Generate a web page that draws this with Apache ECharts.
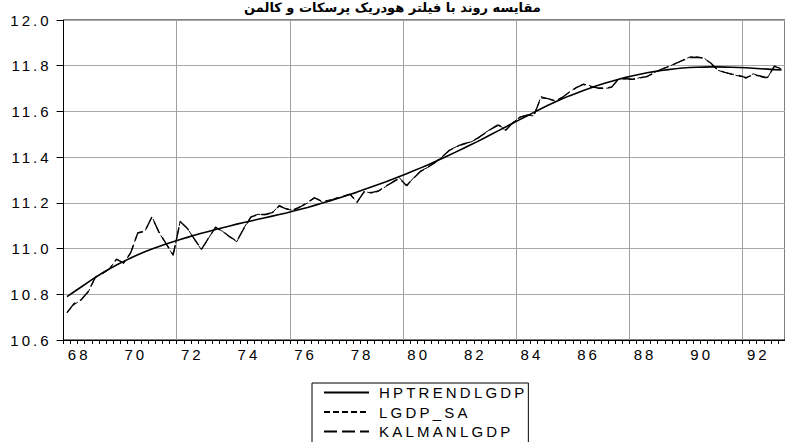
<!DOCTYPE html>
<html>
<head>
<meta charset="utf-8">
<script src="https://cdn.jsdelivr.net/npm/echarts@6/dist/echarts.min.js"></script>
<style>
html,body{margin:0;padding:0;background:#fff;}
#main{width:785px;height:442px;}
</style>
</head>
<body>
<div id="main"></div>
<script>
// ---------- data ----------
const TITLE = 'مقایسه روند با فیلتر هودریک پرسکات و کالمن';
const START_YEAR = 1968;
const N_QUARTERS = 102; // 1968Q1 .. 1993Q2
const categories = [];
for (let i = 0; i < N_QUARTERS; i++) {
  categories.push((START_YEAR + Math.floor(i / 4)) + 'Q' + (i % 4 + 1));
}
const seriesNames = ['HPTRENDLGDP', 'LGDP_SA', 'KALMANLGDP'];

const hpTrend = [
  10.790, 10.811, 10.832, 10.853, 10.874, 10.893, 10.911, 10.928,
  10.944, 10.959, 10.973, 10.986, 10.998, 11.009, 11.020, 11.030,
  11.040, 11.049, 11.058, 11.067, 11.075, 11.083, 11.091, 11.099,
  11.107, 11.114, 11.121, 11.128, 11.135, 11.142, 11.149, 11.156,
  11.164, 11.172, 11.180, 11.189, 11.198, 11.207, 11.217, 11.227,
  11.237, 11.247, 11.258, 11.269, 11.280, 11.291, 11.303, 11.315,
  11.327, 11.340, 11.353, 11.366, 11.380, 11.394, 11.408, 11.423,
  11.438, 11.453, 11.468, 11.484, 11.500, 11.516, 11.532, 11.548,
  11.564, 11.580, 11.596, 11.612, 11.627, 11.641, 11.655, 11.668,
  11.680, 11.692, 11.703, 11.713, 11.723, 11.732, 11.741, 11.749,
  11.756, 11.763, 11.769, 11.774, 11.779, 11.783, 11.787, 11.790,
  11.792, 11.793, 11.794, 11.795, 11.795, 11.794, 11.793, 11.792,
  11.791, 11.789, 11.787, 11.785, 11.783, 11.781
];

const lgdpSA = [
  10.720, 10.755, 10.775, 10.810, 10.875, 10.890, 10.910, 10.955,
  10.935, 10.980, 11.070, 11.075, 11.140, 11.070, 11.020, 10.970,
  11.120, 11.090, 11.040, 10.995, 11.045, 11.095, 11.075, 11.050,
  11.030, 11.090, 11.140, 11.150, 11.148, 11.155, 11.190, 11.172,
  11.168, 11.182, 11.200, 11.225, 11.205, 11.212, 11.218, 11.226,
  11.240, 11.200, 11.250, 11.243, 11.250, 11.270, 11.292, 11.310,
  11.273, 11.310, 11.340, 11.355, 11.375, 11.400, 11.430, 11.445,
  11.455, 11.465, 11.480, 11.505, 11.525, 11.545, 11.515, 11.550,
  11.575, 11.585, 11.580, 11.665, 11.655, 11.645, 11.660, 11.685,
  11.705, 11.720, 11.712, 11.700, 11.700, 11.705, 11.745, 11.742,
  11.740, 11.748, 11.752, 11.770, 11.785, 11.795, 11.810, 11.822,
  11.838, 11.838, 11.835, 11.810, 11.780, 11.770, 11.762, 11.755,
  11.745, 11.765, 11.752, 11.745, 11.800, 11.785
];

const kalmanLGDP = [
  10.720, 10.760, 10.776, 10.812, 10.874, 10.893, 10.911, 10.953,
  10.937, 10.982, 11.068, 11.076, 11.138, 11.072, 11.022, 10.972,
  11.118, 11.088, 11.042, 10.997, 11.046, 11.093, 11.076, 11.052,
  11.032, 11.088, 11.138, 11.149, 11.149, 11.157, 11.186, 11.174,
  11.170, 11.183, 11.202, 11.222, 11.207, 11.208, 11.220, 11.228,
  11.238, 11.204, 11.248, 11.245, 11.252, 11.272, 11.290, 11.307,
  11.276, 11.308, 11.338, 11.356, 11.376, 11.401, 11.428, 11.446,
  11.458, 11.466, 11.482, 11.503, 11.524, 11.540, 11.518, 11.549,
  11.574, 11.584, 11.583, 11.660, 11.656, 11.647, 11.661, 11.684,
  11.704, 11.718, 11.708, 11.703, 11.702, 11.707, 11.743, 11.743,
  11.741, 11.747, 11.753, 11.768, 11.784, 11.796, 11.809, 11.823,
  11.836, 11.837, 11.833, 11.812, 11.782, 11.771, 11.763, 11.757,
  11.748, 11.760, 11.755, 11.748, 11.797, 11.786
];

const Y_MIN = 10.6, Y_MAX = 12.0, Y_STEP = 0.2;

// ---------- chart ----------
const chart = echarts.init(document.getElementById('main'), null, {renderer: 'svg'});
const FONT = 'Liberation Sans';

const option = {
  animation: false,
  backgroundColor: '#fff',
  title: {
    text: TITLE,
    left: 'center',
    top: 0,
    padding: 0,
    textStyle: {fontFamily: 'DejaVu Sans', fontSize: 13, fontWeight: 'bold', color: '#000', lineHeight: 15}
  },
  grid: {
    left: 63.5, right: -1, top: 20, bottom: 102,
    show: true, borderColor: '#000', borderWidth: 1, backgroundColor: 'transparent'
  },
  legend: {
    orient: 'vertical',
    left: 312, top: 383,
    height: 80,
    itemWidth: 45, itemHeight: 14, itemGap: 4.5,
    padding: [2, 36, 8, 11],
    borderColor: '#000', borderWidth: 1, borderRadius: 0,
    itemStyle: {opacity: 0},
    textStyle: {fontFamily: FONT, fontSize: 15, color: '#000', padding: [0, 0, 0, 5]},
    data: seriesNames
  },
  xAxis: {
    type: 'category',
    data: categories,
    boundaryGap: true,
    axisLine: {lineStyle: {color: '#000', width: 1}},
    axisTick: {show: true, interval: 0, length: 4, lineStyle: {color: '#000'}},
    axisLabel: {
      interval: (i) => i % 8 === 2,
      formatter: (v) => v.slice(2, 4),
      color: '#000', fontFamily: FONT, fontSize: 15,
      margin: 7, padding: [0, 4, 0, 0]
    },
    splitLine: {show: true, interval: (i) => i % 16 === 0, lineStyle: {color: '#a0a0a0', width: 1}}
  },
  yAxis: {
    type: 'value',
    min: Y_MIN, max: Y_MAX, interval: Y_STEP,
    axisLine: {show: true, lineStyle: {color: '#000', width: 1}},
    axisTick: {show: true, length: 7, lineStyle: {color: '#000'}},
    axisLabel: {
      formatter: (v) => v.toFixed(1),
      color: '#000', fontFamily: FONT, fontSize: 15, margin: 12
    },
    splitLine: {show: true, lineStyle: {color: '#a8a8a8', width: 1}}
  },
  series: [
    {name: seriesNames[0], type: 'line', data: hpTrend, symbol: 'none', z: 4,
     itemStyle: {color: '#000'},
     lineStyle: {color: '#000', width: 1.6, type: 'solid'}},
    {name: seriesNames[1], type: 'line', data: lgdpSA, symbol: 'none', z: 3,
     itemStyle: {color: '#000'},
     lineStyle: {color: '#000', width: 1, type: [6, 3]}},
    {name: seriesNames[2], type: 'line', data: kalmanLGDP, symbol: 'none', z: 3,
     itemStyle: {color: '#000'},
     lineStyle: {color: '#000', width: 1.4, type: [13, 5]}}
  ]
};
chart.setOption(option);

function spaceText() {
  document.querySelectorAll('#main svg text').forEach((t) => {
    const s = t.textContent;
    if (seriesNames.indexOf(s) >= 0) t.style.letterSpacing = '3.2px';
    else if (/^\d/.test(s)) t.style.letterSpacing = '3px';
  });
}
chart.on('finished', spaceText);
setTimeout(spaceText, 50);
</script>
</body>
</html>
